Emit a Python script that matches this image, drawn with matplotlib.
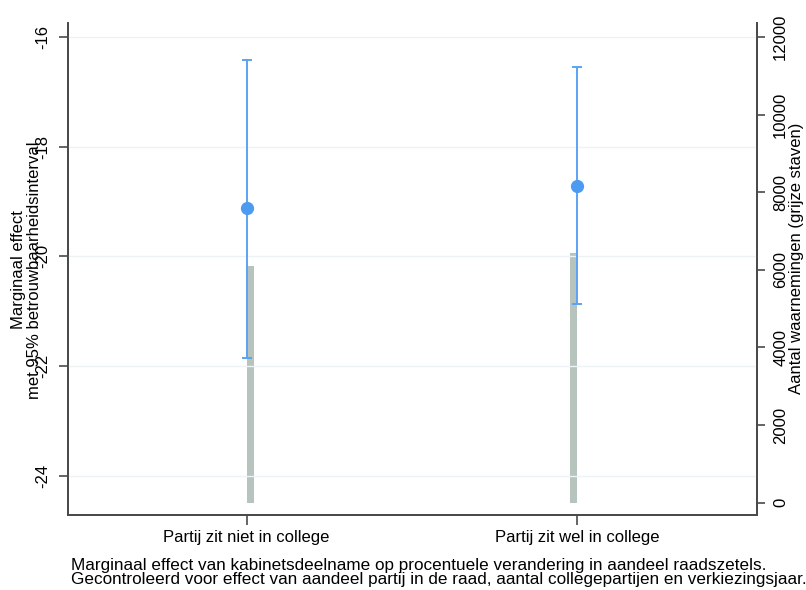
import numpy as np
import matplotlib
matplotlib.use('Agg')
import matplotlib.pyplot as plt

plt.rcParams['font.family'] = ['Liberation Sans', 'DejaVu Sans']
plt.rcParams['axes.unicode_minus'] = False

# Marginal effects with 95% CI, and number of observations per group
categories = ['Partij zit niet in college', 'Partij zit wel in college']
effect = [-19.12, -18.71]
ci_low = [-21.85, -20.87]
ci_high = [-16.41, -16.55]
n_obs = [6090, 6430]

left_ticks = [-16, -18, -20, -22, -24]
right_ticks = [0, 2000, 4000, 6000, 8000, 10000, 12000]

note_lines = ['Marginaal effect van kabinetsdeelname op procentuele verandering in aandeel raadszetels.',
              'Gecontroleerd voor effect van aandeel partij in de raad, aantal collegepartijen en verkiezingsjaar.']

line_blue = '#5ca3f2'
dot_blue = '#4d9bf0'
bar_color = '#b6c4bd'
axis_color = '#4a4a4a'

fig = plt.figure(figsize=(8.06, 5.9), dpi=100)
ax = fig.add_axes([0.0844, 0.1271, 0.8545, 0.8331])
ax2 = ax.twinx()

x = np.arange(len(categories))

# grey bars with counts on the right axis
bar_shift = np.array([0.012, -0.011])
ax2.bar(x + bar_shift, n_obs, width=0.022, color=bar_color, edgecolor='none')
ax2.set_ylim(-317, 12348)
ax2.set_yticks(right_ticks)
ax2.set_yticklabels([str(t) for t in right_ticks], rotation=90, va='center', fontsize=12)

# point estimates with confidence intervals
yerr = [np.array(effect) - np.array(ci_low), np.array(ci_high) - np.array(effect)]
ax.errorbar(x, effect, yerr=yerr, fmt='o', color=dot_blue, ecolor=line_blue, elinewidth=1.4,
            capsize=3.6, capthick=1.4, markersize=8.5, zorder=3)
ax.set_ylim(-24.72, -15.75)
ax.set_xlim(-0.54, 1.542)
ax.set_yticks(left_ticks)
ax.set_yticklabels([str(t) for t in left_ticks], rotation=90, va='center', fontsize=12)
ax.set_xticks(x)
ax.set_xticklabels(categories, fontsize=12)

ax.set_zorder(ax2.get_zorder() + 1)
ax.patch.set_visible(False)

for y in left_ticks:
    ax.axhline(y, color='#edf3f4', lw=1, zorder=0)

for a in (ax, ax2):
    a.spines['top'].set_visible(False)
    for s in ('left', 'right', 'bottom'):
        a.spines[s].set_color(axis_color)
        a.spines[s].set_linewidth(1.3)
    a.tick_params(colors=axis_color, labelcolor='black', width=1.2)
ax.tick_params(axis='y', length=6.5, pad=6.5)
ax2.tick_params(axis='y', length=6, pad=5.8)
ax.tick_params(axis='x', length=7.2, pad=3.5)

# axis titles
fig.text(19 / 806, 1 - 270 / 590, 'Marginaal effect', rotation=90, fontsize=12,
         ha='center', va='center')
fig.text(35 / 806, 1 - 270 / 590, 'met 95% betrouwbaarheidsinterval', rotation=90, fontsize=12,
         ha='center', va='center')
fig.text(797 / 806, 1 - 258 / 590, 'Aantal waarnemingen (grijze staven)', rotation=90, fontsize=12,
         ha='center', va='center')

# note under the chart
fig.text(71 / 806, 1 - 570 / 590, note_lines[0], fontsize=12.3, ha='left', va='baseline')
fig.text(71 / 806, 1 - 584 / 590, note_lines[1], fontsize=12.3, ha='left', va='baseline')

fig.savefig('out.png', dpi=100)
